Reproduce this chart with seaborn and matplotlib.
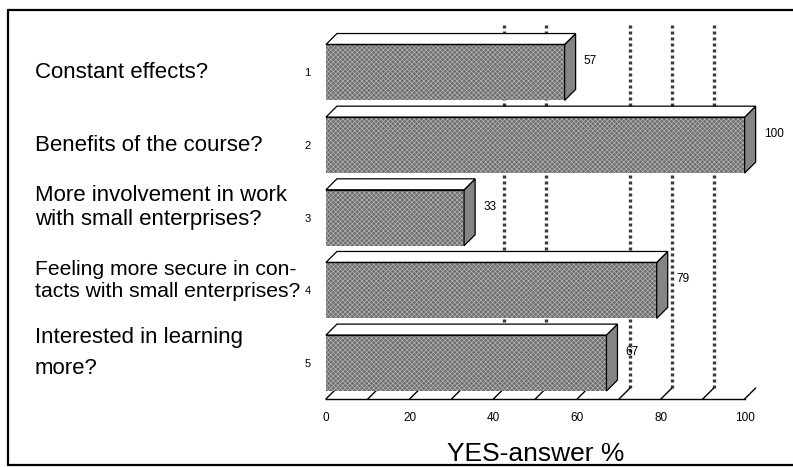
import matplotlib
matplotlib.use("Agg")
import matplotlib.pyplot as plt
import matplotlib.transforms as mtransforms
from matplotlib.patches import Polygon
from matplotlib.lines import Line2D
import pandas as pd
import seaborn as sns

# data
questions = [
    "Constant effects?",
    "Benefits of the course?",
    "More involvement in work\nwith small enterprises?",
    "Feeling more secure in con-\ntacts with small enterprises?",
    "Interested in learning\nmore?",
]
numbers = ["1", "2", "3", "4", "5"]
yes_pct = [57, 100, 33, 79, 67]
grid_x = [40, 50, 70, 80, 90]
xticks = [0, 20, 40, 60, 80, 100]

df = pd.DataFrame({"num": numbers, "yes": yes_pct})

sns.set_theme(style="white")
plt.rcParams["font.family"] = ["Liberation Sans", "DejaVu Sans"]
plt.rcParams["hatch.linewidth"] = 0.5
plt.rcParams["text.color"] = "black"
plt.rcParams["xtick.color"] = "black"
plt.rcParams["ytick.color"] = "black"
plt.rcParams["axes.labelcolor"] = "black"

fig = plt.figure(figsize=(7.93, 4.67), dpi=100)
ax = fig.add_axes([0.411, 0.1456, 0.528, 0.777])

bar_h = 0.77
sns.barplot(data=df, x="yes", y="num", orient="h", width=bar_h, ax=ax,
            color="#6e6e6e", zorder=3)

ybase = len(numbers) - 1 + 0.495
ax.set_xlim(0, 100)
ax.set_ylim(ybase, -0.5)

# depth of the fake 3D effect (data units)
dx, dy = 2.63, 0.151

for p in ax.patches:
    p.set_hatch("xxxxxxx")
    p.set_edgecolor("#b4b4b4")
    p.set_linewidth(0)

for i, v in enumerate(yes_pct):
    top = i - bar_h / 2
    bot = i + bar_h / 2
    side = Polygon([(v, top), (v + dx, top - dy), (v + dx, bot - dy), (v, bot)],
                   closed=True, facecolor="#858585", edgecolor="black",
                   linewidth=0.9, zorder=4, clip_on=False)
    ax.add_patch(side)
    lid = Polygon([(0, top), (dx, top - dy), (v + dx, top - dy), (v, top)],
                  closed=True, facecolor="white", edgecolor="black",
                  linewidth=0.9, zorder=4, clip_on=False)
    ax.add_patch(lid)
    ax.plot([0, v], [top, top], color="black", lw=0.9, zorder=5)
    ax.annotate(str(v), xy=(v + dx, i - dy), xytext=(6, 0),
                textcoords="offset points", va="center", ha="left",
                fontsize=8.5, annotation_clip=False)

# back wall gridlines
for g in grid_x:
    ax.plot([g + dx, g + dx], [ybase - dy, -0.65], color="#3a3a3a",
            lw=2.4, ls=(0, (0.9, 0.9)), zorder=1, clip_on=False)

# floor lines
for t in range(0, 101, 10):
    ax.plot([t, t + dx], [ybase, ybase - dy], color="black", lw=1.0,
            zorder=2, clip_on=False)

sns.despine(ax=ax, left=True)
ax.spines["bottom"].set_color("black")
ax.spines["bottom"].set_linewidth(1.0)
ax.set_xticks(xticks)
ax.tick_params(axis="x", direction="out", length=4, width=1,
               labelsize=8.5, pad=5)
ax.tick_params(axis="y", length=0, labelsize=8, pad=11)
ax.set_ylabel("")
ax.set_xlabel("YES-answer %", fontsize=19, labelpad=13)

trans = mtransforms.blended_transform_factory(fig.transFigure, ax.transData)
for i, q in enumerate(questions):
    off = -0.14 if "\n" in q else 0.0
    fig.text(35 / 793, i + off, q, transform=trans, ha="left", va="center",
             fontsize=15.2 if i == 3 else 16,
             linespacing=1.2 if i < 4 else 1.65)

# outer frame (right edge falls outside the picture)
for xs, ys in [([8 / 793, 8 / 793], [2 / 467, 457 / 467]),
               ([8 / 793, 1.01], [457 / 467, 457 / 467]),
               ([8 / 793, 1.01], [2 / 467, 2 / 467])]:
    fig.add_artist(Line2D(xs, ys, color="black", lw=1.6,
                          transform=fig.transFigure))

fig.savefig("out.png", dpi=100)
